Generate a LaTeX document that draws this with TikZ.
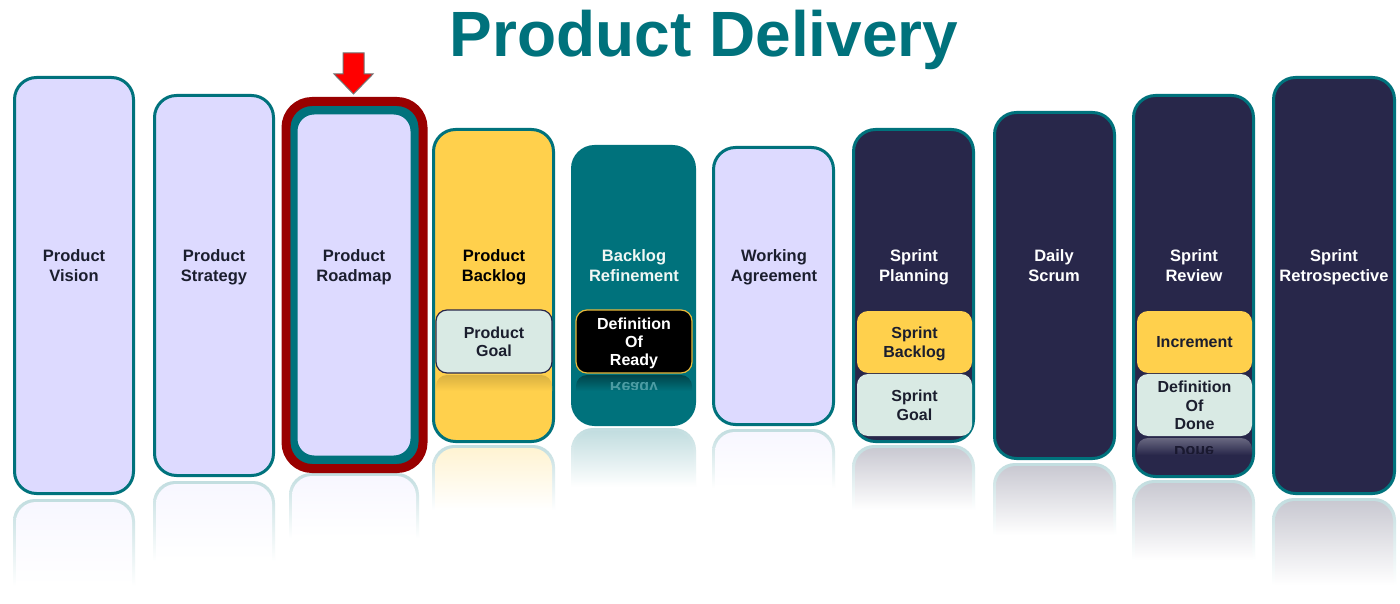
\documentclass[tikz,border=0pt]{standalone}
\usepackage{fontspec}
\setmainfont{Liberation Sans}
\definecolor{tealc}{HTML}{00727C}
\definecolor{navyc}{HTML}{28274A}
\definecolor{lavc}{HTML}{DDDAFF}
\definecolor{yelc}{HTML}{FFD04C}
\definecolor{mintc}{HTML}{D9EAE4}
\definecolor{redc}{HTML}{990000}
\definecolor{inkc}{HTML}{1B1E2E}
\definecolor{goldc}{HTML}{E8B93A}
\tikzset{
  barbox/.style={draw=tealc,line width=3pt,rounded corners=22pt,inner sep=0pt,outer sep=0pt},
  lavbar/.style={barbox,fill=lavc},
  yelbar/.style={barbox,fill=yelc},
  tealbar/.style={barbox,fill=tealc,draw=tealc},
  navybar/.style={barbox,fill=navyc},
  subbox/.style={line width=1.2pt,rounded corners=11pt,inner sep=0pt,outer sep=0pt},
  subtext/.style={align=center,font=\fontsize{16}{18.2}\selectfont\bfseries,inner sep=0pt,
    execute at begin node=\strut,execute at end node=\strut},
  barlabel/.style={align=center,font=\fontsize{16.5}{20}\selectfont\bfseries,inner sep=0pt,
    execute at begin node=\strut,execute at end node=\strut},
  titletext/.style={font=\fontsize{64}{72}\selectfont\bfseries,text=tealc,inner sep=0pt},
}
% name, x1, y1, x2, y2, style  (outer edges, reference pixels)
\newcommand{\pbar}[6]{\node[#6,minimum width={(#4-#2-3)*1pt},minimum height={(#5-#3-3)*1pt}] (#1) at ({(#2+#4)/2},{(#3+#5)/2}) {};}
% name, x1, y1, x2, y2, box style, text colour, text, text offset
\newcommand{\psub}[9]{\node[subbox,#6,minimum width={(#4-#2)*1pt},minimum height={(#5-#3)*1pt}] (#1) at ({(#2+#4)/2},{(#3+#5)/2}) {};
  \node[subtext,text=#7] (#1text) at ({(#2+#4)/2},{(#3+#5)/2+#9}) {#8};}
% x1, x2, ytop, length, rim colour, inner colour
\newcommand{\prefl}[6]{%
  \path[top color=#5,bottom color=white] (#1,#3+#4) [rounded corners=22pt] -- (#1,#3) -- (#2,#3) [sharp corners] -- (#2,#3+#4) -- cycle;
  \path[top color=#6,bottom color=white] (#1+3,#3+#4) [rounded corners=20pt] -- (#1+3,#3+3) -- (#2-3,#3+3) [sharp corners] -- (#2-3,#3+#4) -- cycle;}
% x1, x2, ytop, length, top colour, base colour
\newcommand{\pglow}[6]{\path[top color=#5,bottom color=#6] (#1,#3+#4) [rounded corners=11pt] -- (#1,#3) -- (#2,#3) [sharp corners] -- (#2,#3+#4) -- cycle;}
\begin{document}
\begin{tikzpicture}[x=1pt,y=-1pt]
\useasboundingbox (0,0) rectangle (1400,604);
\fill[white] (0,0) rectangle (1400,604);

% reflections
\colorlet{rimc}{tealc!24}
\colorlet{lavr}{lavc!22}
\colorlet{navr}{navyc!25}
\colorlet{yelr}{yelc!25}
\prefl{13}{135}{499}{87}{rimc}{lavr}
\prefl{153}{275}{481}{80}{rimc}{lavr}
\prefl{289}{419}{473}{65}{rimc}{lavr}
\prefl{432}{555}{445}{65}{rimc}{yelr}
\prefl{571}{696}{428}{59}{rimc}{rimc}
\prefl{712}{835}{429}{59}{rimc}{lavr}
\prefl{852}{975}{445}{65}{rimc}{navr}
\prefl{993}{1116}{463}{72}{rimc}{navr}
\prefl{1132}{1255}{480}{80}{rimc}{navr}
\prefl{1272}{1396}{498}{87}{rimc}{navr}

% title
\node[titletext] (title) at (704,40) {Product Delivery};

% bars
\pbar{vision}{13}{76}{135}{495}{lavbar}
\pbar{strategy}{153}{94}{275}{477}{lavbar}
\node[draw=redc,fill=tealc,line width=9pt,rounded corners=26pt,inner sep=0pt,minimum width=137pt,minimum height=367pt] (roadmapouter) at (354.5,285) {};
\node[draw=tealc,line width=7pt,fill=lavc,rounded corners=20pt,inner sep=0pt,minimum width=120pt,minimum height=348pt] (roadmap) at (354,285) {};
\pbar{backlog}{432}{128}{555}{443}{yelbar}
\pbar{refinement}{571}{145}{696}{426}{tealbar}
\pbar{agreement}{712}{146}{835}{426}{lavbar}
\pbar{planning}{852}{128}{975}{443}{navybar}
\pbar{scrum}{993}{111}{1116}{460}{navybar}
\pbar{review}{1132}{94}{1255}{478}{navybar}
\pbar{retro}{1272}{76}{1396}{495}{navybar}

% reflections of the small boxes inside the bars
\pglow{436}{552}{375}{16}{yelc!85!black}{yelc}
\pglow{576}{692}{375}{16}{black!40!tealc}{tealc}
\begin{scope}
\clip (576,382) rectangle (692,389);
\node[text=white!30!tealc,yscale=-1,font=\fontsize{16}{18.2}\selectfont\bfseries,inner sep=0pt] (readyrefl) at (634,387) {Ready};
\end{scope}
\pglow{1137}{1252}{438}{17}{navyc!70!white}{navyc}
\begin{scope}
\clip (1137,446) rectangle (1252,453);
\node[text=black!35!navyc,yscale=-1,font=\fontsize{16}{18.2}\selectfont\bfseries,inner sep=0pt] (donerefl) at (1194,452) {Done};
\end{scope}

% small boxes
\psub{pgoal}{436}{310}{552}{373}{draw=navyc,fill=mintc}{inkc}{Product\\Goal}{3}
\psub{dor}{576}{310}{692}{373}{draw=goldc,fill=black}{white}{Definition\\Of\\Ready}{3}
\psub{sback}{857}{311}{972}{373}{fill=yelc}{inkc}{Sprint\\Backlog}{3}
\psub{sgoal}{857}{374}{972}{436}{fill=mintc}{inkc}{Sprint\\Goal}{3}
\psub{incr}{1137}{311}{1252}{373}{fill=yelc}{inkc}{Increment}{2}
\psub{dod}{1137}{374}{1252}{436}{fill=mintc}{inkc}{Definition\\Of\\Done}{3}

% bar labels
\node[barlabel,text=inkc] (l1) at (74,269) {Product\\Vision};
\node[barlabel,text=inkc] (l2) at (214,269) {Product\\Strategy};
\node[barlabel,text=inkc] (l3) at (354,269) {Product\\Roadmap};
\node[barlabel,text=black] (l4) at (494,269) {Product\\Backlog};
\node[barlabel,text=white!60!mintc] (l5) at (634,269) {Backlog\\Refinement};
\node[barlabel,text=inkc] (l6) at (774,269) {Working\\Agreement};
\node[barlabel,text=white] (l7) at (914,269) {Sprint\\Planning};
\node[barlabel,text=white] (l8) at (1054,269) {Daily\\Scrum};
\node[barlabel,text=white] (l9) at (1194,269) {Sprint\\Review};
\node[barlabel,text=white] (l10) at (1334,269) {Sprint\\Retrospective};

% red arrow
\draw[fill=red,draw=black!55,line width=1pt,line join=miter]
  (343,53) -- (364,53) -- (364,74) -- (373,74) -- (353.5,94) -- (334,74) -- (343,74) -- cycle;
\end{tikzpicture}
\end{document}
